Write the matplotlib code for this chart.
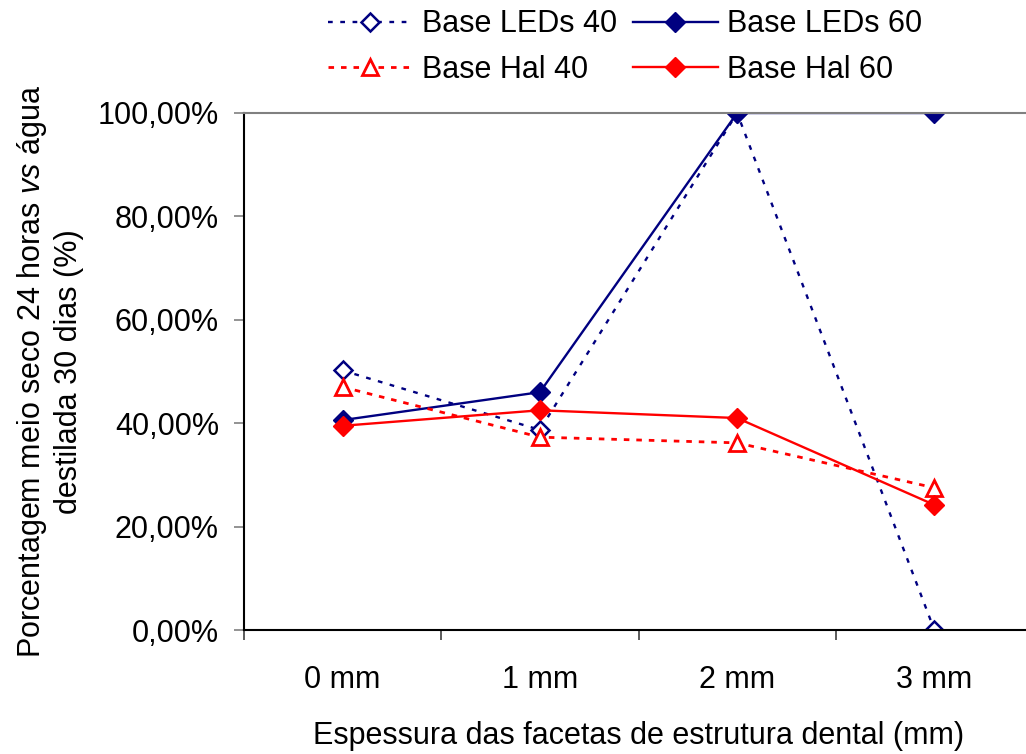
import matplotlib
matplotlib.use('Agg')
import matplotlib.pyplot as plt
import numpy as np

plt.rcParams['font.family'] = ['Liberation Sans', 'DejaVu Sans']
plt.rcParams['mathtext.fontset'] = 'custom'
plt.rcParams['mathtext.it'] = 'Liberation Sans:italic'
plt.rcParams['mathtext.rm'] = 'Liberation Sans'

categories = ["0 mm", "1 mm", "2 mm", "3 mm"]
leds_40 = [50.2, 38.7, 100.0, 0.0]
leds_60 = [40.6, 46.0, 100.0, 100.0]
hal_40 = [47.0, 37.3, 36.2, 27.5]
hal_60 = [39.5, 42.5, 41.0, 24.2]

navy = '#000080'
red = '#FF0000'
fs = 22

fig = plt.figure(figsize=(10.26, 7.54), dpi=100)
ax = fig.add_axes([244 / 1026, 1 - 630 / 754, (1033 - 244) / 1026, (630 - 113) / 754])

x = np.arange(len(categories))
l1, = ax.plot(x, leds_40, color=navy, lw=1.7, dashes=(2, 3.2), marker='D', ms=9.5,
              mfc='white', mec=navy, mew=1.8, label='Base LEDs 40')
l2, = ax.plot(x, leds_60, color=navy, lw=1.7, marker='D', ms=10,
              mfc=navy, mec=navy, label='Base LEDs 60')
l3, = ax.plot(x, hal_40, color=red, lw=2.0, dashes=(2, 2.5), marker='^', ms=12,
              mfc='white', mec=red, mew=2, label='Base Hal 40')
l4, = ax.plot(x, hal_60, color=red, lw=1.7, marker='D', ms=10,
              mfc=red, mec=red, label='Base Hal 60')

ax.set_xlim(-0.5, 3.5)
ax.set_ylim(0, 100)
yt = [0, 20, 40, 60, 80, 100]
ax.set_yticks(yt)
ax.set_yticklabels([f"{v:.2f}%".replace('.', ',') for v in yt], fontsize=fs)
ax.set_xticks(x)
ax.set_xticklabels(categories, fontsize=fs)
ax.set_xticks(np.arange(-0.5, 4, 1), minor=True)
ax.tick_params(axis='x', which='major', length=0, pad=25)
ax.tick_params(axis='x', which='minor', length=7, color='#404040', width=1.2, direction='out')
ax.tick_params(axis='y', length=7, color='#808080', width=1.2, pad=11)
for s in ['top', 'right']:
    ax.spines[s].set_color('#808080')
    ax.spines[s].set_linewidth(1.5)
for s in ['left', 'bottom']:
    ax.spines[s].set_color('black')
    ax.spines[s].set_linewidth(1.5)

ax.set_ylabel("Porcentagem meio seco 24 horas $\\it{vs}$ água\ndestilada 30 dias (%)",
              fontsize=fs, labelpad=10, linespacing=1.23)
ax.set_xlabel("Espessura das facetas de estrutura dental (mm)", fontsize=fs, labelpad=19)

fig.legend(handles=[l1, l3, l2, l4], loc='center',
           bbox_to_anchor=(625 / 1026, 1 - 47 / 754), ncol=2,
           frameon=False, fontsize=fs, handlelength=2.8, handletextpad=0.3,
           columnspacing=0.5, labelspacing=0.5)

fig.savefig('out.png', dpi=100)
